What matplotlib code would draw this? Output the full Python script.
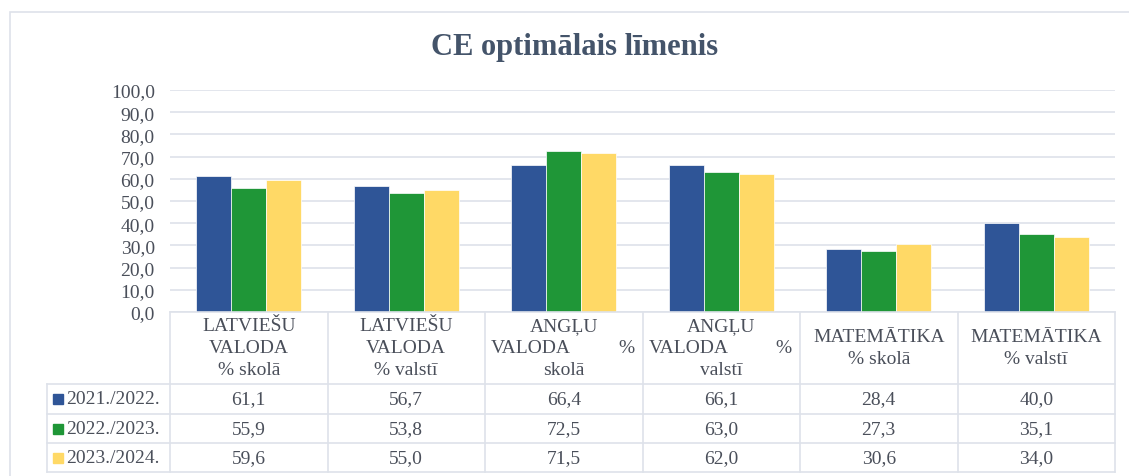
import matplotlib
matplotlib.use('Agg')
import matplotlib.pyplot as plt
from matplotlib.lines import Line2D
from matplotlib.patches import Rectangle
import numpy as np

matplotlib.rcParams['font.family'] = 'Liberation Serif'

title = 'CE optimālais līmenis'
categories = ['LATVIEŠU\nVALODA\n% skolā', 'LATVIEŠU\nVALODA\n% valstī',
              'ANGĻU\nVALODA\t%\nskolā', 'ANGĻU\nVALODA\t%\nvalstī',
              'MATEMĀTIKA\n% skolā', 'MATEMĀTIKA\n% valstī']
years = ['2021./2022.', '2022./2023.', '2023./2024.']
v2122 = [61.1, 56.7, 66.4, 66.1, 28.4, 40.0]
v2223 = [55.9, 53.8, 72.5, 63.0, 27.3, 35.1]
v2324 = [59.6, 55.0, 71.5, 62.0, 30.6, 34.0]
series = [v2122, v2223, v2324]
colors = ['#2F5597', '#1F9637', '#FFD966']

W, H = 1129, 477
fig = plt.figure(figsize=(W / 100, H / 100), dpi=100)

def fx(px):
    return px / W

def fy(py):
    return 1 - py / H

grid_c = '#DEE2EA'
text_c = '#4A4F5A'

# outer chart frame
fig.add_artist(Rectangle((fx(10), fy(500)), fx(1140), fy(13) - fy(500),
                         transform=fig.transFigure, fill=False,
                         edgecolor='#DEE2EA', lw=1.2))

fig.text(fx(575), fy(48), title, ha='center', va='center', fontsize=22,
         fontweight='bold', color='#44546A')

left, right, top, bottom = 170, 1115, 91, 313
ax = fig.add_axes([fx(left), fy(bottom), fx(right - left), fy(top) - fy(bottom)])
n = len(categories)
x = np.arange(n)
bw = 0.222
for i, s in enumerate(series):
    ax.bar(x + (i - 1) * bw, s, width=bw, color=colors[i],
           edgecolor='white', linewidth=0.5, zorder=3)
ax.set_xlim(-0.5, n - 0.5)
ax.set_ylim(0, 100)
ax.set_yticks(np.arange(0, 101, 10))
ax.set_yticklabels([f'{t:.1f}'.replace('.', ',') for t in np.arange(0, 101, 10)],
                   fontsize=14, color=text_c)
ax.tick_params(axis='y', length=0, pad=11)
ax.set_xticks([])
ax.grid(axis='y', color=grid_c, lw=1.2, zorder=0)
for sp in ax.spines.values():
    sp.set_visible(False)

# data table under the axis
row_y = [385, 415, 444, 473]

def line_px(x0, y0, x1, y1):
    fig.add_artist(Line2D([fx(x0), fx(x1)], [fy(y0), fy(y1)],
                          transform=fig.transFigure, color=grid_c, lw=1.2))

line_px(left, bottom, right, bottom)
for yy in row_y:
    line_px(47, yy, right, yy)
line_px(47, row_y[0], 47, row_y[-1])
col_px = [left + (right - left) * k / n for k in range(n + 1)]
for cx in col_px:
    line_px(cx, bottom, cx, row_y[-1])

for k, cat in enumerate(categories):
    cx = (col_px[k] + col_px[k + 1]) / 2
    lines = cat.split('\n')
    if len(lines) == 3:
        ys = [327, 349, 371]
    else:
        ys = [338, 360]
    for ln, yy in zip(lines, ys):
        if '\t' in ln:
            a, b = ln.split('\t')
            fig.text(fx(col_px[k] + 6), fy(yy), a, ha='left', va='center',
                     fontsize=14, color=text_c)
            fig.text(fx(col_px[k + 1] - 8), fy(yy), b, ha='right', va='center',
                     fontsize=14, color=text_c)
        else:
            fig.text(fx(cx), fy(yy), ln, ha='center', va='center',
                     fontsize=14, color=text_c)

for r, (yr, s) in enumerate(zip(years, series)):
    yc = (row_y[r] + row_y[r + 1]) / 2
    fig.add_artist(Rectangle((fx(53), fy(yc + 5)), fx(10), fy(yc - 5) - fy(yc + 5),
                             transform=fig.transFigure, color=colors[r]))
    fig.text(fx(66), fy(yc), yr, ha='left', va='center', fontsize=14, color=text_c)
    for k, v in enumerate(s):
        cx = (col_px[k] + col_px[k + 1]) / 2
        fig.text(fx(cx), fy(yc), f'{v:.1f}'.replace('.', ','), ha='center',
                 va='center', fontsize=14, color=text_c)

fig.savefig('out.png', dpi=100)
